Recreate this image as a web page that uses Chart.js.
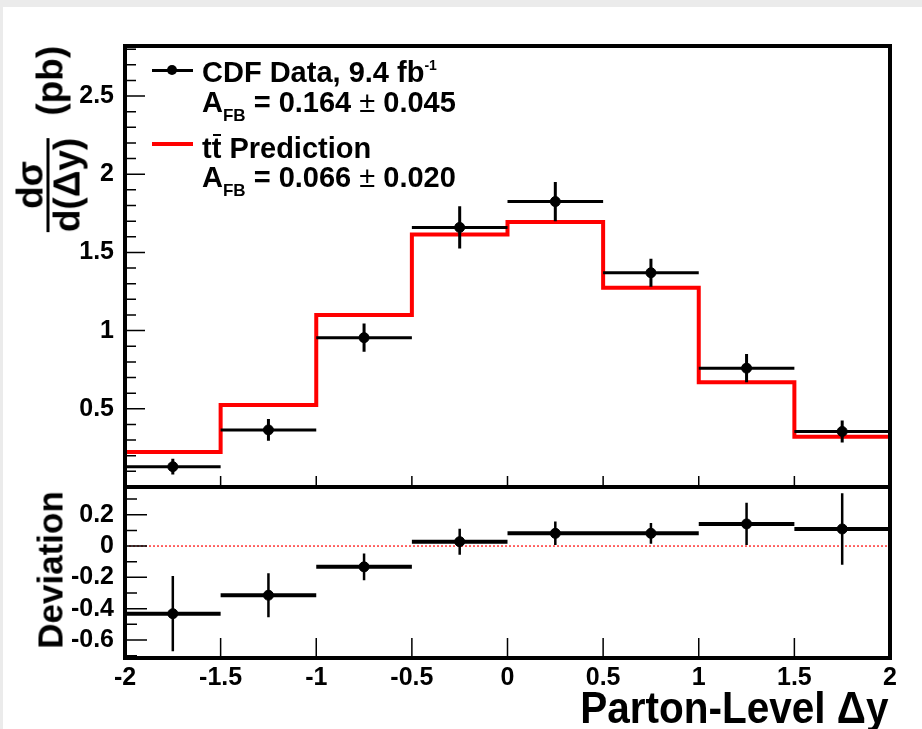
<!DOCTYPE html>
<html>
<head>
<meta charset="utf-8">
<title>CDF parton-level dσ/d(Δy)</title>
<script src="https://cdn.jsdelivr.net/npm/chart.js@4.4.1/dist/chart.umd.min.js"></script>
<style>
  html, body { margin: 0; padding: 0; }
  body {
    width: 922px; height: 729px; position: relative; overflow: hidden;
    background: #ebebeb; color: #000;
    font-family: "Liberation Sans", Arial, sans-serif; font-weight: bold;
  }
  #page { position: absolute; left: 3px; top: 7px; right: 0; bottom: 0; background: #fff; }
  canvas { position: absolute; left: 0; }
  #topChart { top: 0; }
  #botChart { top: 440px; }
  .leg { position: absolute; left: 202px; font-size: 29px; line-height: 28px; white-space: nowrap; }
  .leg sub { font-size: 17px; vertical-align: -9px; line-height: 0; }
  .leg sup { font-size: 14px; vertical-align: 12px; line-height: 0; }
  .pm { font-weight: normal; }
  .tbar { position: relative; display: inline-block; }
  .tbar::before { content: ""; position: absolute; left: 1px; right: 0; top: 0px; height: 2px; background: #000; }
  .sample { position: absolute; left: 152px; width: 41px; }
  #ytitle {
    position: absolute; left: 50px; top: 139px;
    transform: translate(-50%, -50%) rotate(-90deg);
    display: flex; align-items: center; gap: 22px; white-space: nowrap; font-size: 37px;
  }
  .frac { display: inline-flex; flex-direction: column; text-align: center; }
  .frac .num { line-height: 32px; border-bottom: 3px solid #000; }
  .frac .den { line-height: 36px; }
  #devtitle {
    position: absolute; left: 50px; top: 570px;
    transform: translate(-50%, -50%) rotate(-90deg);
    font-size: 35px; line-height: 35px; white-space: nowrap;
  }
  #xtitle {
    position: absolute; right: 34px; top: 686px;
    font-size: 45px; line-height: 44px; white-space: nowrap;
    transform: scaleX(0.9); transform-origin: right center;
  }
</style>
</head>
<body>
<div id="page"></div>
<canvas id="topChart" width="922" height="530"></canvas>
<canvas id="botChart" width="922" height="289"></canvas>

<div id="ytitle"><span class="frac"><span class="num">dσ</span><span class="den">d(Δy)</span></span><span>(pb)</span></div>
<div id="devtitle">Deviation</div>
<div id="xtitle">Parton-Level Δy</div>

<div class="sample" style="top:68.5px; height:3px; background:#000;"></div>
<div style="position:absolute; left:167px; top:65px; width:10px; height:10px; border-radius:50%; background:#000;"></div>
<div class="sample" style="top:142px; height:4px; background:#ff0000;"></div>
<div class="leg" style="top:58px;">CDF Data, 9.4 fb<sup>-1</sup></div>
<div class="leg" style="top:88px;">A<sub>FB</sub> = 0.164 <span class="pm">±</span> 0.045</div>
<div class="leg" style="top:134px;">t<span class="tbar">t</span> Prediction</div>
<div class="leg" style="top:163px;">A<sub>FB</sub> = 0.066 <span class="pm">±</span> 0.020</div>

<script>
// Binning in parton-level delta y
const binEdges = [-2, -1.5, -1, -0.5, 0, 0.5, 1, 1.5, 2];
const binCenters = [-1.75, -1.25, -0.75, -0.25, 0.25, 0.75, 1.25, 1.75];

// dsigma/d(dy) in pb
const dataXsec = [0.13, 0.365, 0.955, 1.66, 1.825, 1.37, 0.76, 0.355];
const dataXsecErr = [0.05, 0.07, 0.09, 0.135, 0.125, 0.09, 0.09, 0.07];
const predXsec = [0.224, 0.525, 1.10, 1.615, 1.695, 1.274, 0.67, 0.322];

// (data - prediction) / prediction
const deviation = [-0.432, -0.314, -0.133, 0.028, 0.081, 0.081, 0.141, 0.109];
const deviationErr = [0.24, 0.14, 0.085, 0.083, 0.075, 0.066, 0.135, 0.228];

// Axis ticks
const xTickLabels = [-2, -1.5, -1, -0.5, 0, 0.5, 1, 1.5, 2];
const xInnerTicks = [-1.5, -1, -0.5, 0, 0.5, 1, 1.5];
const topYTicks = [0.5, 1, 1.5, 2, 2.5];
const topYMinor = [0.1, 0.2, 0.3, 0.4, 0.6, 0.7, 0.8, 0.9, 1.1, 1.2, 1.3, 1.4, 1.6, 1.7, 1.8, 1.9,
                   2.1, 2.2, 2.3, 2.4, 2.6, 2.7, 2.8];
const botYTicks = [-0.6, -0.4, -0.2, 0, 0.2];
const botYMinor = [-0.7, -0.5, -0.3, -0.1, 0.1, 0.3];

Chart.defaults.font.family = '"Liberation Sans", Arial, sans-serif';
Chart.defaults.font.weight = 'bold';
Chart.defaults.color = '#000';

// Horizontal bars spanning each bin, separated by gaps
function binBars(values) {
    const pts = [];
    values.forEach((v, i) => {
        pts.push({ x: binEdges[i], y: v }, { x: binEdges[i + 1], y: v }, { x: binCenters[i], y: null });
    });
    return pts;
}

// Vertical error bars at bin centres
function errorBars(values, errs) {
    const pts = [];
    values.forEach((v, i) => {
        pts.push({ x: binCenters[i], y: v - errs[i] }, { x: binCenters[i], y: v + errs[i] }, { x: binCenters[i], y: null });
    });
    return pts;
}

// Step histogram through the bin edges
function histSteps(values) {
    const pts = [{ x: binEdges[0], y: 0 }];
    values.forEach((v, i) => pts.push({ x: binEdges[i], y: v }));
    pts.push({ x: binEdges[binEdges.length - 1], y: values[values.length - 1] });
    return pts;
}

function centrePoints(values) {
    return values.map((v, i) => ({ x: binCenters[i], y: v }));
}

// ROOT-like frame with inward ticks
const rootFrame = {
    id: 'rootFrame',
    afterDatasetsDraw(chart, args, opts) {
        const { ctx, chartArea: a, scales } = chart;
        ctx.save();
        ctx.strokeStyle = '#000';
        ctx.lineWidth = 1.5;
        ctx.beginPath();
        opts.yMajor.forEach(v => {
            const y = scales.y.getPixelForValue(v);
            ctx.moveTo(a.left, y); ctx.lineTo(a.left + opts.yMajorLen, y);
        });
        opts.yMinor.forEach(v => {
            const y = scales.y.getPixelForValue(v);
            ctx.moveTo(a.left, y); ctx.lineTo(a.left + opts.yMinorLen, y);
        });
        opts.xTicks.forEach(v => {
            const x = scales.x.getPixelForValue(v);
            ctx.moveTo(x, a.bottom); ctx.lineTo(x, a.bottom - opts.xLen);
        });
        ctx.stroke();
        ctx.lineWidth = 4;
        ctx.strokeRect(a.left, a.top, a.right - a.left, a.bottom - a.top);
        ctx.restore();
    }
};

function yAxis(min, max, ticks) {
    return {
        type: 'linear', min: min, max: max,
        grid: { display: false, drawTicks: false }, border: { display: false },
        afterBuildTicks: scale => { scale.ticks = ticks.map(v => ({ value: v })); },
        afterFit: scale => { scale.width = 125; },
        ticks: { padding: 11, font: { size: 25, weight: 'bold' }, callback: v => String(v) }
    };
}

const topChart = new Chart(document.getElementById('topChart'), {
    type: 'scatter',
    data: {
        datasets: [
            {
                type: 'line', label: 'tt Prediction', data: histSteps(predXsec), stepped: 'before',
                borderColor: '#ff0000', borderWidth: 4, pointRadius: 0, fill: false, order: 3
            },
            {
                type: 'line', label: 'bins', data: binBars(dataXsec),
                borderColor: '#000', borderWidth: 3, pointRadius: 0, spanGaps: false, order: 2
            },
            {
                type: 'line', label: 'errors', data: errorBars(dataXsec, dataXsecErr),
                borderColor: '#000', borderWidth: 3, pointRadius: 0, spanGaps: false, order: 1
            },
            {
                label: 'CDF Data', data: centrePoints(dataXsec),
                backgroundColor: '#000', borderColor: '#000', pointRadius: 5, order: 0
            }
        ]
    },
    options: {
        responsive: false,
        animation: false,
        layout: { padding: { left: 0, top: 46, right: 32, bottom: 43 } },
        plugins: {
            legend: { display: false },
            tooltip: { enabled: false },
            rootFrame: { yMajor: topYTicks, yMinor: topYMinor, yMajorLen: 20, yMinorLen: 11, xTicks: xInnerTicks, xLen: 11 }
        },
        scales: {
            x: { type: 'linear', min: -2, max: 2, display: false },
            y: yAxis(0, 2.82, topYTicks)
        }
    },
    plugins: [rootFrame]
});

const botChart = new Chart(document.getElementById('botChart'), {
    type: 'scatter',
    data: {
        datasets: [
            {
                type: 'line', label: 'zero', data: [{ x: -2, y: 0 }, { x: 2, y: 0 }],
                borderColor: '#ff0000', borderWidth: 1.2, borderDash: [2, 2], pointRadius: 0, order: 3
            },
            {
                type: 'line', label: 'bins', data: binBars(deviation),
                borderColor: '#000', borderWidth: 4, pointRadius: 0, spanGaps: false, order: 2
            },
            {
                type: 'line', label: 'errors', data: errorBars(deviation, deviationErr),
                borderColor: '#000', borderWidth: 2.5, pointRadius: 0, spanGaps: false, order: 1
            },
            {
                label: 'Deviation', data: centrePoints(deviation),
                backgroundColor: '#000', borderColor: '#000', pointRadius: 5, order: 0
            }
        ]
    },
    options: {
        responsive: false,
        animation: false,
        layout: { padding: { left: 0, top: 47, right: 32, bottom: 0 } },
        plugins: {
            legend: { display: false },
            tooltip: { enabled: false },
            rootFrame: { yMajor: botYTicks, yMinor: botYMinor, yMajorLen: 22, yMinorLen: 12, xTicks: xInnerTicks, xLen: 20 }
        },
        scales: {
            x: {
                type: 'linear', min: -2, max: 2,
                grid: { display: false, drawTicks: false }, border: { display: false },
                afterBuildTicks: scale => { scale.ticks = xTickLabels.map(v => ({ value: v })); },
                afterFit: scale => { scale.height = 71; },
                ticks: { padding: 5, font: { size: 25, weight: 'bold' }, callback: v => String(v) }
            },
            y: yAxis(-0.715, 0.377, botYTicks)
        }
    },
    plugins: [rootFrame]
});
</script>
</body>
</html>
